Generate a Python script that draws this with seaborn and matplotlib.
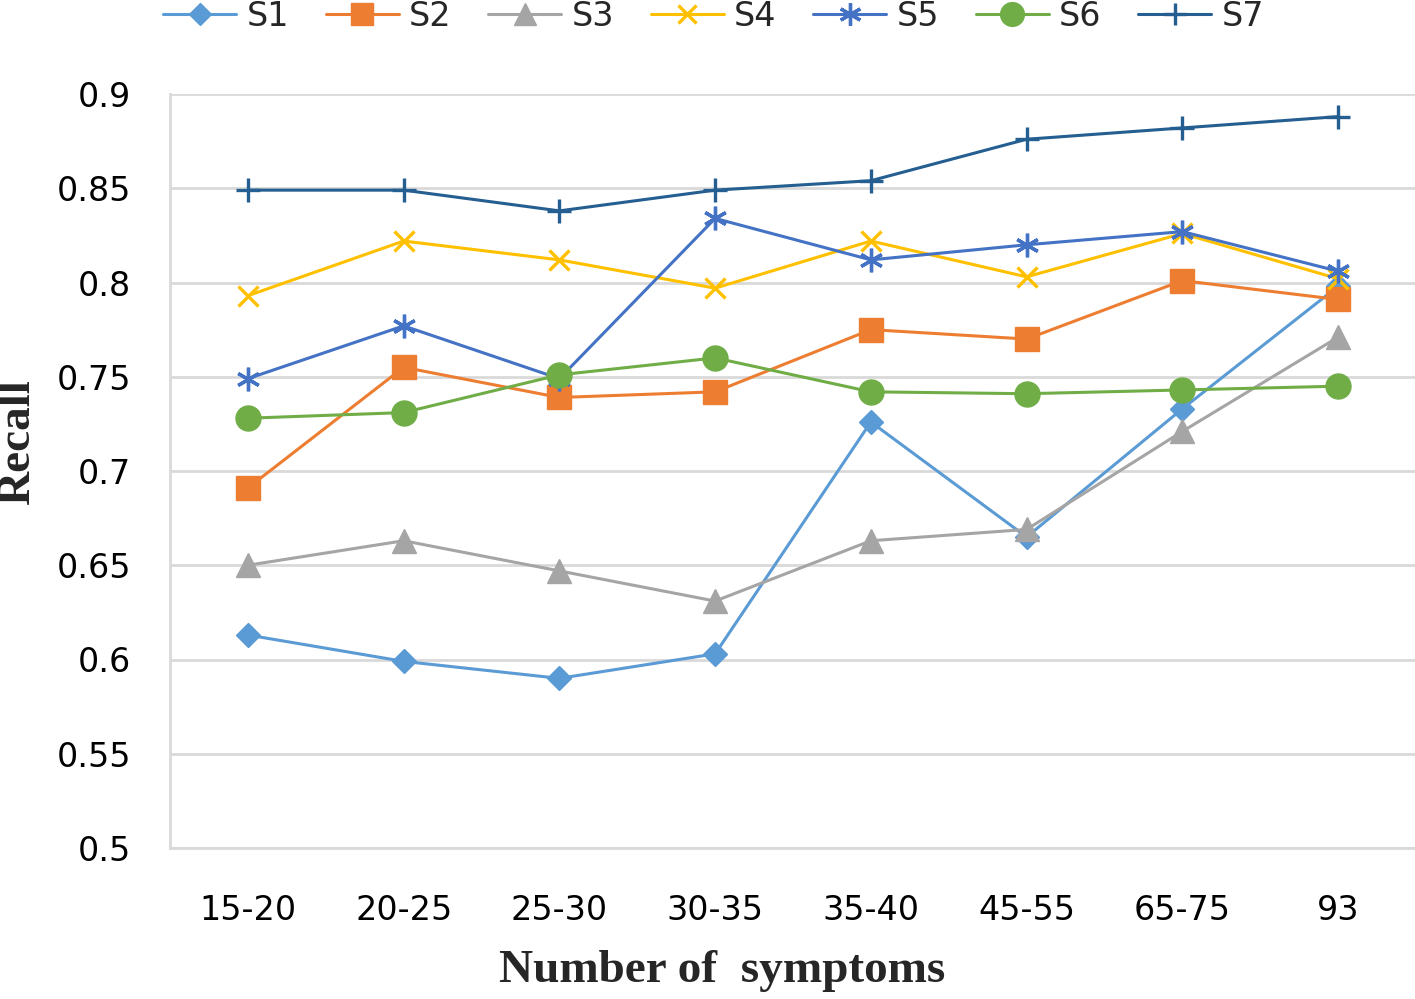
import pandas as pd
import seaborn as sns
from matplotlib import pyplot as plt

groups = ["15-20", "20-25", "25-30", "30-35", "35-40", "45-55", "65-75", "93"]

s1 = [0.613, 0.599, 0.590, 0.603, 0.726, 0.665, 0.733, 0.798]
s2 = [0.691, 0.755, 0.739, 0.742, 0.775, 0.770, 0.801, 0.791]
s3 = [0.650, 0.663, 0.647, 0.631, 0.663, 0.669, 0.721, 0.771]
s4 = [0.793, 0.822, 0.812, 0.797, 0.822, 0.803, 0.826, 0.802]
s5 = [0.749, 0.777, 0.749, 0.834, 0.812, 0.820, 0.827, 0.806]
s6 = [0.728, 0.731, 0.751, 0.760, 0.742, 0.741, 0.743, 0.745]
s7 = [0.849, 0.849, 0.838, 0.849, 0.854, 0.876, 0.882, 0.888]

series_names = ["S1", "S2", "S3", "S4", "S5", "S6", "S7"]
series_values = [s1, s2, s3, s4, s5, s6, s7]

# line colour, marker, marker size
styles = {
    "S1": ("#5B9BD5", "D", 12),
    "S2": ("#ED7D31", "s", 17),
    "S3": ("#A5A5A5", "^", 17),
    "S4": ("#FFC000", "x", 14),
    "S5": ("#4472C4", (6, 2, 0), 17),
    "S6": ("#70AD47", "o", 18),
    "S7": ("#255E91", "+", 17),
}

df = pd.DataFrame({name: vals for name, vals in zip(series_names, series_values)})
df["group"] = groups
long_df = df.melt(id_vars="group", var_name="series", value_name="recall")

sns.set_style("white")
plt.rcParams["font.family"] = ["DejaVu Sans"]

fig = plt.figure(figsize=(14.15, 9.99), dpi=100)
ax = fig.add_axes([170 / 1415, 1 - 848 / 999, 1246 / 1415, 754 / 999])

for name in series_names:
    color, marker, ms = styles[name]
    sub = long_df[long_df["series"] == name]
    sns.lineplot(data=sub, x="group", y="recall", ax=ax, color=color,
                 linewidth=2.2, marker=marker, markersize=ms,
                 markeredgecolor=color, markerfacecolor=color,
                 markeredgewidth=2.4 if marker in ("x", "+", (6, 2, 0)) else 1,
                 label=name, sort=False)

ax.set_xlim(-0.5, 7.5)
ax.set_ylim(0.5, 0.9)
ax.set_yticks([0.5, 0.55, 0.6, 0.65, 0.7, 0.75, 0.8, 0.85, 0.9])
ax.set_yticklabels(["0.5", "0.55", "0.6", "0.65", "0.7", "0.75", "0.8", "0.85", "0.9"])
ax.grid(axis="y", color="#D9D9D9", linewidth=2)
ax.set_axisbelow(True)
for side in ["top", "right"]:
    ax.spines[side].set_visible(False)
for side in ["left", "bottom"]:
    ax.spines[side].set_color("#D9D9D9")
    ax.spines[side].set_linewidth(2)
ax.tick_params(axis="both", length=0, labelsize=24, colors="black")
ax.tick_params(axis="x", pad=33)
ax.tick_params(axis="y", pad=28)

ax.set_xlabel("Number of  symptoms", family="Liberation Serif", fontweight="bold",
              fontsize=34)
ax.xaxis.set_label_coords(0.443, -0.135)
ax.set_ylabel("Recall", family="Liberation Serif", fontweight="bold", fontsize=34)
ax.yaxis.set_label_coords(-0.105, 0.538)

handles, labels = ax.get_legend_handles_labels()
ax.get_legend().remove()
fig.legend(handles, labels, loc="upper left", bbox_to_anchor=(163 / 1415, 1.0),
           ncol=7, frameon=False, fontsize=24, handlelength=2.2,
           columnspacing=1.1, handletextpad=0.3, markerscale=0.95,
           borderpad=0, borderaxespad=0)

fig.savefig("out.png", dpi=100)
